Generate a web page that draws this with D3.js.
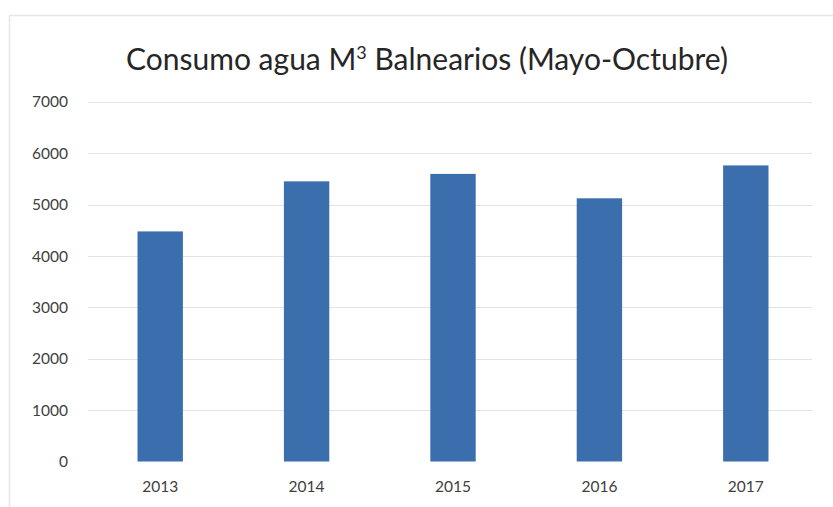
<!DOCTYPE html>
<html><head><meta charset="utf-8">
<script src="https://cdn.jsdelivr.net/npm/d3@7"></script>
<style>body{margin:0;background:#fff}svg{display:block}</style>
</head><body>
<svg id="c" width="833" height="507"></svg>
<script>
const categories = ["2013","2014","2015","2016","2017"];
const values = [4480, 5455, 5600, 5125, 5765];
const yTicks = [0,1000,2000,3000,4000,5000,6000,7000];
const titleParts = ["Consumo agua M", "3", " Balnearios (Mayo-Octubre)"];

const svg = d3.select("#c");
const font = "Lato, 'Open Sans', sans-serif";

// frame
svg.append("path").attr("d","M9.5,507 V15.5 H833").attr("fill","none").attr("stroke","#e6e6e6").attr("stroke-width",1.5);

const x = d3.scaleBand().domain(categories).range([87,819]).paddingInner(0.69).paddingOuter(0.345);
const y = d3.scaleLinear().domain([0,7000]).range([461.5,102]);

// gridlines
svg.append("g").selectAll("line").data(yTicks.filter(d=>d>0)).join("line")
  .attr("x1",88).attr("x2",812)
  .attr("y1",d=>Math.round(y(d))+0.5).attr("y2",d=>Math.round(y(d))+0.5)
  .attr("stroke","#e3e3e3").attr("stroke-width",1);

// bars
svg.append("g").selectAll("rect").data(values).join("rect")
  .attr("x",(d,i)=>x(categories[i]))
  .attr("width",x.bandwidth())
  .attr("y",d=>y(d))
  .attr("height",d=>y(0)-y(d))
  .attr("fill","#3a6eac");

// y axis labels
const yAxis = d3.axisLeft(y).tickValues(yTicks).tickSize(0).tickPadding(0).tickFormat(d3.format("d"));
const gy = svg.append("g").attr("transform","translate(68,0)").call(yAxis);
gy.select(".domain").remove();
gy.selectAll("text").attr("font-family",font).attr("font-size",15.5).attr("fill","#404040");

// x axis labels
const xAxis = d3.axisBottom(x).tickSize(0).tickPadding(0);
const gx = svg.append("g").attr("transform","translate(0,481)").call(xAxis);
gx.select(".domain").remove();
gx.selectAll("text").attr("font-family",font).attr("font-size",15.5).attr("fill","#404040");

// title
const t = svg.append("text").attr("x",427).attr("y",70).attr("text-anchor","middle")
  .attr("font-family",font).attr("font-size",30).attr("fill","#262626");
t.append("tspan").text(titleParts[0]);
t.append("tspan").attr("font-size",18).attr("dy",-11).text(titleParts[1]);
t.append("tspan").attr("dy",11).text(titleParts[2]);
</script>
</body></html>
